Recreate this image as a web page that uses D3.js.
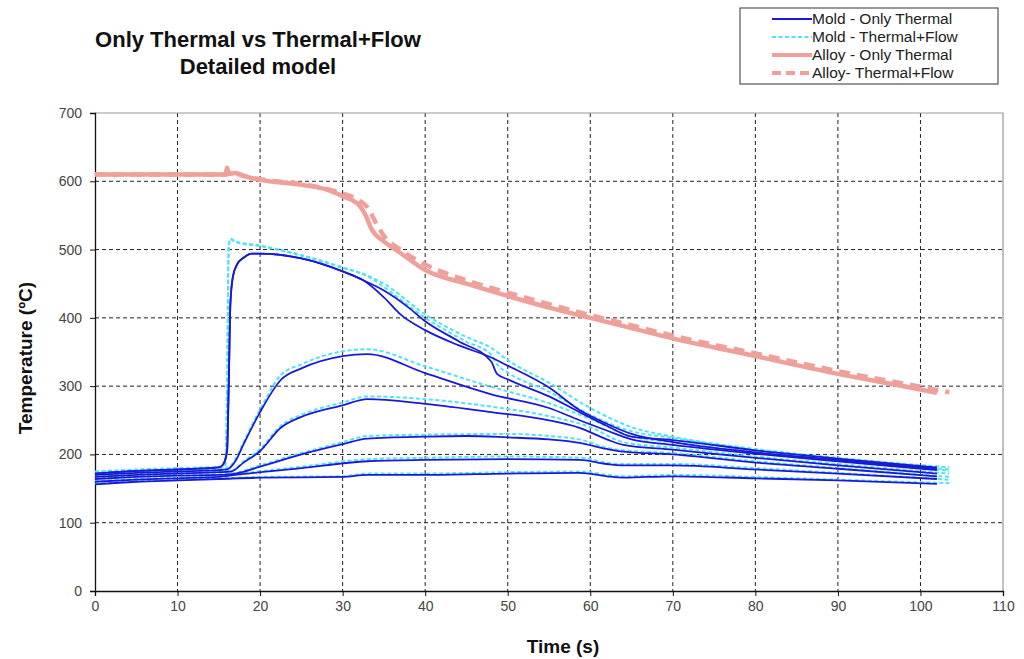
<!DOCTYPE html>
<html><head><meta charset="utf-8">
<script src="https://cdn.jsdelivr.net/npm/d3@7"></script>
<style>body{margin:0;background:#fff}svg{display:block}</style>
</head><body>
<svg id="c" width="1024" height="659"></svg>
<script>
// ---- data (time s, temperature °C) ----
const xTicks = [0,10,20,30,40,50,60,70,80,90,100,110];
const yTicks = [0,100,200,300,400,500,600,700];
const legendLabels = ["Mold - Only Thermal","Mold - Thermal+Flow","Alloy - Only Thermal","Alloy- Thermal+Flow"];

const alloyThermal = [[0,610],[10,610],[15.8,610],[16,620],[16.2,611],[17,612],[18,608],[20,602],[25,595],[28,588],[30,578],[32,565],[32.8,550],[33.5,530],[35,512],[37,495],[40,470],[45,450],[50,432],[55,415],[60,400],[65,385],[70,370],[80,344],[90,318],[100,295],[102,290]];
const alloyFlow = [[0,610],[10,610],[16,610],[16.5,615],[17,612],[18,608],[20,603],[25,596],[30,582],[32,572],[33,562],[34,540],[35,520],[37,500],[40,478],[45,455],[50,437],[55,420],[60,404],[65,389],[70,374],[80,348],[90,322],[100,299],[103.5,291]];

const moldT1 = [[0,172],[5,176],[10,178],[15,181],[15.5,185],[16,205],[16.2,300],[16.4,420],[16.7,460],[17.2,478],[18,488],[19,494],[20,494],[25,487],[30,468],[32.5,455],[35,430],[37,405],[40,382],[44,360],[48,342],[50,330],[55,298],[58.7,265],[62,245],[65,230],[70,218],[80,203],[90,192],[102,179]];
const moldT1b = [[0,172],[5,176],[10,178],[15,181],[15.5,185],[16,205],[16.2,300],[16.4,420],[16.7,460],[17.2,478],[18,488],[19,494],[20,494],[25,487],[30,468],[32.5,455],[35,440],[38,415],[40,395],[44,366],[48,336],[48.7,318],[50,310],[55,285],[58.7,262],[62,242],[65,226],[70,221],[80,206],[90,194],[102,181]];
const moldT2 = [[0,170],[5,173],[10,175],[15,177],[16,178],[17,190],[18,215],[20,262],[22.5,309],[25,326],[30,344],[33,347],[40,319],[48,288],[55,268],[58.7,250],[62,235],[65,222],[70,214],[80,201],[90,190],[102,177]];
const moldT3 = [[0,167],[5,170],[10,172],[15,174],[16.5,175],[18,188],[20,205],[22.5,239],[25,255],[30,272],[33,281],[40,274],[48,262],[55,250],[58.7,239],[62,222],[64,214],[70,207],[80,195],[90,184],[102,172]];
const moldT4 = [[0,164],[5,167],[10,169],[15,170],[17,172],[20,182],[25,200],[30,215],[33,223],[40,226],[45,227],[50,225],[55,222],[58.7,217],[62,208],[64,204],[70,200],[80,188],[90,179],[102,168]];
const moldT5 = [[0,160],[5,163],[10,165],[15,167],[17,170],[25,180],[33,190],[40,192],[50,193],[58.7,192],[62,186],[64,184],[70,184],[80,178],[90,172],[102,164]];
const moldT6 = [[0,156],[5,160],[10,162],[15,164],[20,166],[30,167],[33,170],[40,170],[50,172],[58.7,173],[62,168],[64,166],[70,168],[80,165],[90,162],[102,157]];

const moldF1 = [[0,175],[5,178],[10,180],[15,182],[15.8,185],[16,300],[16.2,505],[16.4,516],[17,512],[20,506],[25,492],[30,474],[33,462],[35,450],[40,405],[45,372],[48,356],[50,338],[55,305],[60,268],[65,240],[70,226],[80,208],[90,195],[103.5,181]];
const moldF1b = [[0,174],[5,177],[10,179],[15,181],[15.8,184],[16,300],[16.2,505],[16.4,515],[17,511],[20,505],[25,491],[30,473],[33,461],[35,445],[40,400],[45,365],[48,346],[48.7,332],[50,320],[55,292],[60,258],[65,234],[70,224],[80,206],[90,193],[103.5,178]];
const moldF2 = [[0,172],[5,175],[10,177],[15,179],[16,180],[17,193],[18,218],[20,266],[22.5,316],[25,332],[30,351],[33,354],[40,329],[48,299],[55,275],[60,252],[65,226],[70,218],[80,203],[90,192],[103.5,176]];
const moldF3 = [[0,168],[5,171],[10,173],[15,175],[16.5,176],[18,190],[20,208],[22.5,242],[25,258],[30,276],[33,285],[40,281],[48,270],[55,256],[60,240],[64,218],[70,210],[80,197],[90,186],[103.5,172]];
const moldF4 = [[0,165],[5,168],[10,170],[15,171],[17,173],[20,184],[25,202],[30,218],[33,227],[40,229],[50,230],[55,227],[59,221],[62,210],[64,206],[70,202],[80,190],[90,180],[103.5,167]];
const moldF5 = [[0,161],[5,164],[10,166],[15,168],[17,171],[25,182],[33,193],[40,195],[50,197],[59,195],[62,188],[64,186],[70,186],[80,180],[90,173],[103.5,163]];
const moldF6 = [[0,157],[5,161],[10,163],[15,165],[20,167],[30,168],[33,172],[40,172],[50,174],[59,175],[62,170],[64,168],[70,170],[80,167],[90,163],[103.5,158]];

const moldThermal = [moldT1,moldT1b,moldT2,moldT3,moldT4,moldT5,moldT6];
const moldFlow = [moldF1,moldF1b,moldF2,moldF3,moldF4,moldF5,moldF6];

// ---- drawing ----
const svg = d3.select("#c");
const m = {l:95, r:1003, t:113, b:591};
const x = d3.scaleLinear().domain([0,110]).range([m.l,m.r]);
const y = d3.scaleLinear().domain([0,700]).range([m.b,m.t]);
const FONT = "'Liberation Sans', Arial, sans-serif";

// grid
const g = svg.append("g");
g.selectAll(".vg").data(xTicks.filter(d=>d>0&&d<110)).enter().append("line")
  .attr("x1",d=>x(d)).attr("x2",d=>x(d)).attr("y1",m.t).attr("y2",m.b)
  .attr("stroke","#222").attr("stroke-width",1).attr("stroke-dasharray","4,3");
g.selectAll(".hg").data(yTicks.filter(d=>d>0&&d<700)).enter().append("line")
  .attr("x1",m.l).attr("x2",m.r).attr("y1",d=>y(d)).attr("y2",d=>y(d))
  .attr("stroke","#222").attr("stroke-width",1).attr("stroke-dasharray","4,3");
// top/right border
svg.append("path").attr("d",`M${m.l},${m.t}H${m.r}V${m.b}`).attr("fill","none").attr("stroke","#999").attr("stroke-width",1.2);

// axes
const xAxis = d3.axisBottom(x).tickValues(xTicks).tickSize(5).tickPadding(5);
const yAxis = d3.axisLeft(y).tickValues(yTicks).tickSize(5).tickPadding(8);
const ax = svg.append("g").attr("transform",`translate(0,${m.b})`).call(xAxis);
const ay = svg.append("g").attr("transform",`translate(${m.l},0)`).call(yAxis);
[ax,ay].forEach(a=>{
  a.select(".domain").attr("stroke","#111").attr("stroke-width",1.3);
  a.selectAll(".tick line").attr("stroke","#111");
  a.selectAll("text").attr("font-family",FONT).attr("font-size",14).attr("fill","#444");
});

const line = d3.line().x(d=>x(d[0])).y(d=>y(d[1])).curve(d3.curveMonotoneX);

// series
const plot = svg.append("g");
plot.selectAll(".mf").data(moldFlow).enter().append("path")
  .attr("d",line).attr("fill","none").attr("stroke","#4fe3f5").attr("stroke-width",2).attr("stroke-dasharray","4,2.5");
plot.selectAll(".mt").data(moldThermal).enter().append("path")
  .attr("d",line).attr("fill","none").attr("stroke","#1a1ad6").attr("stroke-width",1.8);
plot.append("path").datum(alloyThermal).attr("d",line).attr("fill","none").attr("stroke","#f0a09a").attr("stroke-width",4.5);
plot.append("path").datum(alloyFlow).attr("d",line).attr("fill","none").attr("stroke","#f0a09a").attr("stroke-width",4.5).attr("stroke-dasharray","11,7");

// title
const title = svg.append("text").attr("text-anchor","middle").attr("font-family",FONT).attr("font-weight","bold").attr("font-size",22).attr("fill","#111");
title.append("tspan").attr("x",258).attr("y",47).text("Only  Thermal vs Thermal+Flow");
title.append("tspan").attr("x",258).attr("y",74).text("Detailed  model");

// axis titles
svg.append("text").attr("x",563).attr("y",653).attr("text-anchor","middle").attr("font-family",FONT).attr("font-weight","bold").attr("font-size",19).attr("fill","#111").text("Time (s)");
svg.append("text").attr("transform","translate(32,358) rotate(-90)").attr("text-anchor","middle").attr("font-family",FONT).attr("font-weight","bold").attr("font-size",19).attr("fill","#111").text("Temperature (ºC)");

// legend
const lg = svg.append("g");
lg.append("rect").attr("x",740).attr("y",8).attr("width",258).attr("height",76).attr("fill","#fff").attr("stroke","#555").attr("stroke-width",1.2);
const lstyles = [
  {c:"#1a1ad6",w:2,d:null},
  {c:"#4fe3f5",w:2,d:"4,2.5"},
  {c:"#f0a09a",w:4,d:null},
  {c:"#f0a09a",w:4,d:"9,5"}
];
legendLabels.forEach((t,i)=>{
  const yy = 19 + i*18;
  lg.append("line").attr("x1",772).attr("x2",812).attr("y1",yy).attr("y2",yy)
    .attr("stroke",lstyles[i].c).attr("stroke-width",lstyles[i].w).attr("stroke-dasharray",lstyles[i].d);
  lg.append("text").attr("x",812).attr("y",yy+5).attr("font-family",FONT).attr("font-size",15.5).attr("fill","#222").text(t);
});
</script>
</body></html>
